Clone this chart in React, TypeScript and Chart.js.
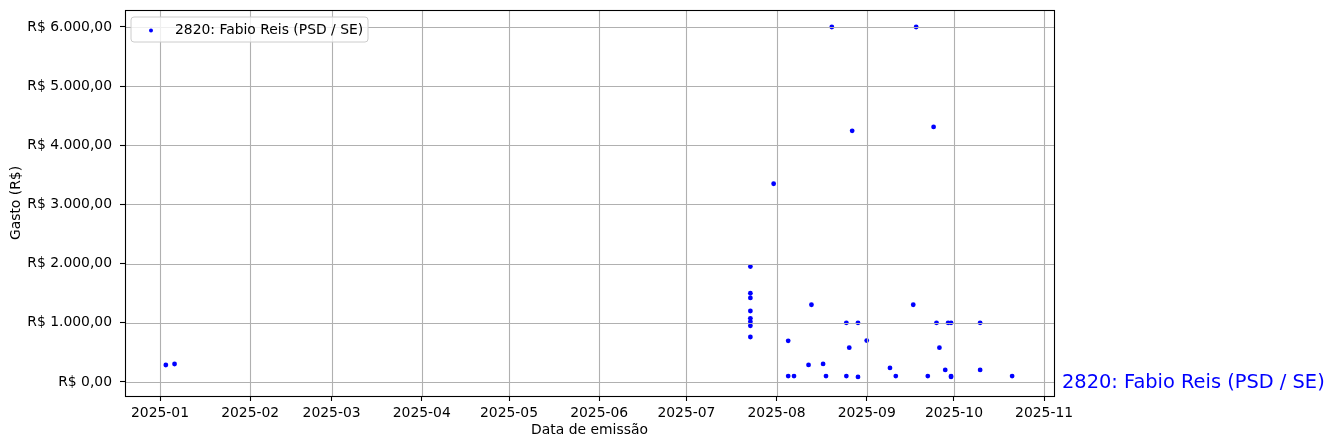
import React, { useEffect, useRef } from 'react';
import { Chart, registerables } from 'chart.js';

Chart.register(...registerables);

const seriesLabel = '2820: Fabio Reis (PSD / SE)';
const xAxisTitle = 'Data de emissão';
const yAxisTitle = 'Gasto (R$)';

const emissionDates = [
  '2025-01-03', '2025-01-06',
  '2025-07-23', '2025-07-23', '2025-07-23', '2025-07-23', '2025-07-23', '2025-07-23', '2025-07-23', '2025-07-23',
  '2025-07-31',
  '2025-08-05', '2025-08-05', '2025-08-07', '2025-08-12', '2025-08-13', '2025-08-17', '2025-08-18',
  '2025-08-20', '2025-08-25', '2025-08-25', '2025-08-26', '2025-08-27', '2025-08-29', '2025-08-29',
  '2025-09-01', '2025-09-09', '2025-09-11', '2025-09-17', '2025-09-18', '2025-09-22', '2025-09-24',
  '2025-09-25', '2025-09-26', '2025-09-28', '2025-09-29', '2025-09-30', '2025-09-30', '2025-09-30',
  '2025-10-10', '2025-10-10', '2025-10-21',
];

const spendValues = [
  287, 304,
  1950, 1500, 1420, 1200, 1075, 1020, 950, 760,
  3350,
  695, 100, 100, 288, 1305, 305, 100,
  6000, 1000, 100, 580, 4245, 85, 1000,
  700, 237, 100, 1305, 6000, 100, 4310,
  1000, 580, 203, 1000, 1000, 100, 85,
  1000, 203, 100,
];

const yTickValues = [0, 1000, 2000, 3000, 4000, 5000, 6000];
const xTickMonths = [
  '2025-01', '2025-02', '2025-03', '2025-04', '2025-05', '2025-06',
  '2025-07', '2025-08', '2025-09', '2025-10', '2025-11',
];

const DAY = 86400000;
function toMs(s: string): number {
  const [y, m, d] = s.split('-').map(Number);
  return Date.UTC(y, m - 1, d || 1);
}
function fmtMonth(ms: number): string {
  const d = new Date(ms);
  return d.getUTCFullYear() + '-' + String(d.getUTCMonth() + 1).padStart(2, '0');
}
function fmtBRL(v: number): string {
  const neg = v < 0;
  const a = Math.abs(v);
  const int = Math.floor(a);
  const dec = Math.round((a - int) * 100);
  const intStr = String(int).replace(/\B(?=(\d{3})+(?!\d))/g, '.');
  return (neg ? '-' : '') + 'R$ ' + intStr + ',' + String(dec).padStart(2, '0');
}

const FONT = '"DejaVu Sans", sans-serif';

export default function App() {
  const ref = useRef<HTMLCanvasElement>(null);
  useEffect(() => {
    document.body.style.margin = '0';
    const canvas = ref.current;
    if (!canvas) return;
    const points = emissionDates.map((d, i) => ({ x: toMs(d), y: spendValues[i] }));
    const jan1 = toMs(xTickMonths[0]);

    const overlay = {
      id: 'overlay',
      afterDatasetsDraw(chart: any) {
        const { ctx, chartArea: a, scales } = chart;
        const x = scales.x;
        const y = scales.y;
        ctx.save();
        // grid lines (above points, like matplotlib)
        ctx.strokeStyle = '#b0b0b0';
        ctx.lineWidth = 1.1;
        ctx.beginPath();
        x.ticks.forEach((t: any) => {
          const px = Math.round(x.getPixelForValue(t.value)) + 0.5;
          ctx.moveTo(px, a.top);
          ctx.lineTo(px, a.bottom);
        });
        y.ticks.forEach((t: any) => {
          const py = Math.round(y.getPixelForValue(t.value)) + 0.5;
          ctx.moveTo(a.left, py);
          ctx.lineTo(a.right, py);
        });
        ctx.stroke();
        // frame
        ctx.strokeStyle = '#000';
        ctx.lineWidth = 1.1;
        ctx.strokeRect(Math.round(a.left) + 0.5, Math.round(a.top) + 0.5, Math.round(a.right - a.left), Math.round(a.bottom - a.top));
        // legend
        const lx = a.left + 6, ly = a.top + 7, lw = 237, lh = 25, r = 3;
        ctx.beginPath();
        ctx.moveTo(lx + r, ly);
        ctx.lineTo(lx + lw - r, ly);
        ctx.quadraticCurveTo(lx + lw, ly, lx + lw, ly + r);
        ctx.lineTo(lx + lw, ly + lh - r);
        ctx.quadraticCurveTo(lx + lw, ly + lh, lx + lw - r, ly + lh);
        ctx.lineTo(lx + r, ly + lh);
        ctx.quadraticCurveTo(lx, ly + lh, lx, ly + lh - r);
        ctx.lineTo(lx, ly + r);
        ctx.quadraticCurveTo(lx, ly, lx + r, ly);
        ctx.closePath();
        ctx.fillStyle = 'rgba(255,255,255,0.8)';
        ctx.fill();
        ctx.strokeStyle = '#cccccc';
        ctx.lineWidth = 1;
        ctx.stroke();
        ctx.fillStyle = '#0000ff';
        ctx.beginPath();
        ctx.arc(lx + 20, ly + 13.5, 2, 0, Math.PI * 2);
        ctx.fill();
        ctx.fillStyle = '#000';
        ctx.font = '13.9px ' + FONT;
        ctx.textAlign = 'left';
        ctx.textBaseline = 'middle';
        ctx.fillText(seriesLabel, lx + 44, ly + 13);
        // axis titles
        ctx.textAlign = 'center';
        ctx.fillText(xAxisTitle, (a.left + a.right) / 2, 430);
        ctx.save();
        ctx.translate(16, (a.top + a.bottom) / 2);
        ctx.rotate(-Math.PI / 2);
        ctx.fillText(yAxisTitle, 0, 0);
        ctx.restore();
        // right-side label
        ctx.fillStyle = '#0000ff';
        ctx.font = '19.4px ' + FONT;
        ctx.textAlign = 'left';
        ctx.textBaseline = 'middle';
        ctx.fillText(seriesLabel, a.right + 8, y.getPixelForValue(0) + 1);
        ctx.restore();
      },
    };

    const chart = new Chart(canvas, {
      type: 'scatter',
      data: {
        datasets: [
          {
            label: seriesLabel,
            data: points,
            backgroundColor: '#0000ff',
            borderWidth: 0,
            pointRadius: 2.4,
            pointHoverRadius: 2.4,
          },
        ],
      },
      options: {
        animation: false,
        responsive: true,
        maintainAspectRatio: false,
        layout: { padding: { left: 0, right: 281, top: 10, bottom: 0 } },
        plugins: { legend: { display: false }, tooltip: { enabled: false } },
        scales: {
          x: {
            type: 'linear',
            min: jan1 - 12.04 * DAY,
            max: jan1 + 307.4 * DAY,
            afterBuildTicks: (s: any) => {
              s.ticks = xTickMonths.map((m) => ({ value: toMs(m) }));
            },
            afterFit: (s: any) => {
              s.height = 52;
              s.paddingLeft = 0;
              s.paddingRight = 0;
            },
            grid: { color: 'rgba(0,0,0,0)', tickColor: '#000', tickLength: 5, tickWidth: 1.1, drawTicks: true },
            border: { display: false },
            ticks: {
              autoSkip: false,
              maxRotation: 0,
              padding: 4,
              color: '#000',
              font: { family: FONT, size: 13.9 },
              callback: (v: any) => fmtMonth(Number(v)),
            },
          },
          y: {
            type: 'linear',
            min: -237,
            max: 6287,
            afterBuildTicks: (s: any) => {
              s.ticks = yTickValues.map((v) => ({ value: v }));
            },
            afterFit: (s: any) => {
              s.width = 125;
              s.paddingTop = 0;
              s.paddingBottom = 0;
            },
            grid: { color: 'rgba(0,0,0,0)', tickColor: '#000', tickLength: 5, tickWidth: 1.1, drawTicks: true },
            border: { display: false },
            ticks: {
              padding: 8,
              color: '#000',
              font: { family: FONT, size: 13.9 },
              callback: (v: any) => fmtBRL(Number(v)),
            },
          },
        },
      },
      plugins: [overlay],
    });
    return () => chart.destroy();
  }, []);
  return (
    <div style={{ position: 'absolute', left: 0, top: 0, width: 1335, height: 448 }}>
      <canvas ref={ref} />
    </div>
  );
}
